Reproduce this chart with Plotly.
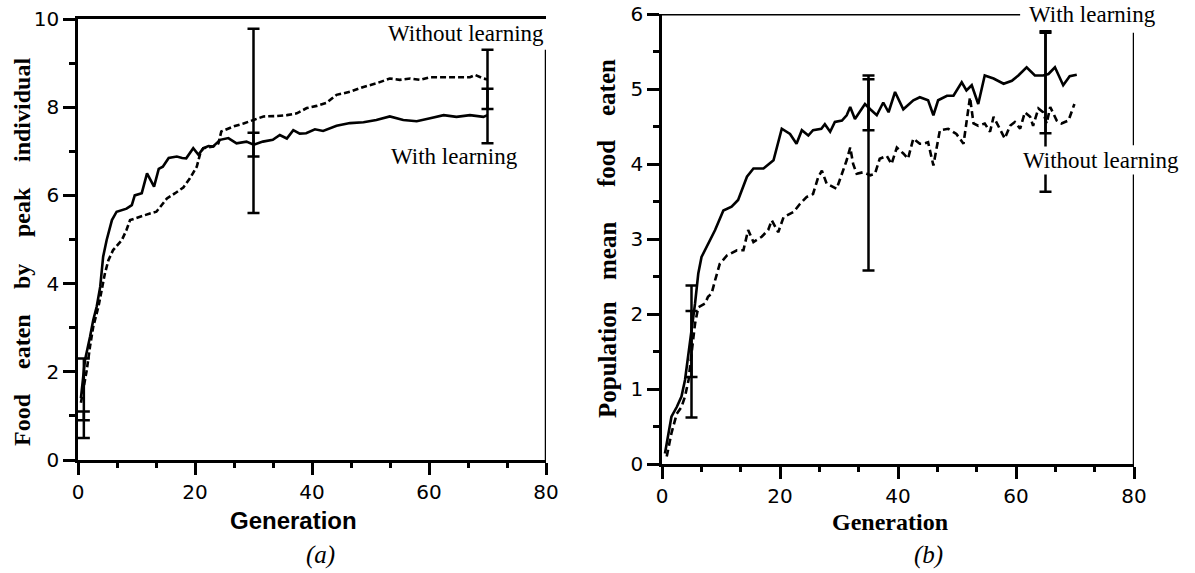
import plotly.graph_objects as go

# ---------------- Panel (a): food eaten by peak individual ----------------
a_with_gen = [0.5, 1.2, 2.05, 2.6, 3.2, 3.8, 4.3, 4.9, 5.8, 6.6, 8.3, 9.2, 9.7, 10.9, 11.8, 12.3, 13.0,
              13.8, 14.5, 15.5, 16.9, 17.8, 18.5, 19.7, 20.6, 21.4, 22.3, 23.1, 24.3, 25.7, 27.1, 28.8,
              30.0, 31.6, 33.3, 34.5, 35.7, 36.8, 37.9, 39.0, 40.5, 41.9, 44.2, 46.5, 48.8, 51.0, 53.3,
              55.6, 57.9, 60.2, 62.5, 64.7, 67.0, 69.3, 70.0]
a_with_val = [1.4, 2.27, 2.79, 3.17, 3.48, 3.93, 4.61, 4.99, 5.44, 5.63, 5.70, 5.78, 6.0, 6.05, 6.5, 6.38, 6.2,
              6.6, 6.65, 6.85, 6.88, 6.85, 6.84, 7.07, 6.92, 7.07, 7.12, 7.11, 7.26, 7.30, 7.18, 7.22,
              7.15, 7.22, 7.26, 7.37, 7.29, 7.48, 7.40, 7.41, 7.50, 7.46, 7.58, 7.64, 7.66, 7.71, 7.79,
              7.71, 7.68, 7.75, 7.82, 7.78, 7.82, 7.78, 7.82]

a_without_gen = [0.5, 1.0, 1.5, 2.05, 2.6, 3.5, 4.05, 4.6, 5.2, 6.0, 7.5, 8.3, 8.9, 10.6, 12.3, 13.4, 14.3,
                 15.2, 16.6, 18.0, 19.1, 20.3, 20.9, 21.4, 23.1, 24.0, 24.5, 26.5, 28.3, 30.0, 31.7, 34.0,
                 35.7, 37.4, 39.1, 40.8, 42.5, 44.2, 46.5, 48.8, 51.0, 53.3, 55.0, 56.8, 58.5, 60.2, 65.3,
                 67.0, 67.9, 69.3, 70.0]
a_without_val = [1.3, 1.66, 2.04, 2.57, 3.02, 3.48, 3.85, 4.23, 4.53, 4.76, 4.99, 5.22, 5.44, 5.52, 5.59, 5.63,
                 5.78, 5.93, 6.05, 6.18, 6.38, 6.65, 6.95, 7.07, 7.11, 7.18, 7.45, 7.56, 7.63, 7.71, 7.79,
                 7.80, 7.82, 7.86, 7.98, 8.03, 8.10, 8.28, 8.35, 8.46, 8.54, 8.65, 8.62, 8.65, 8.62, 8.68,
                 8.68, 8.68, 8.73, 8.65, 8.63]

# error bars (generation, centre, half-length)
a_err_with_gen = [1, 30, 70]
a_err_with_mid = [1.6, 7.15, 7.80]
a_err_with_half = [0.7, 0.27, 0.62]
a_err_without_gen = [1, 30, 70]
a_err_without_mid = [0.8, 7.69, 8.63]
a_err_without_half = [0.3, 2.09, 0.67]

# ---------------- Panel (b): population mean food eaten ----------------
b_with_gen = [0.5, 1.07, 1.6, 2.5, 3.3, 3.9, 4.46, 5.0, 5.6, 6.15, 6.7, 7.85, 9.0, 10.4, 11.8, 12.9, 14.4,
              15.5, 17.2, 18.9, 20.3, 21.7, 22.8, 23.7, 24.8, 25.6, 27.0, 27.6, 28.5, 29.3, 30.5, 31.3,
              31.9, 32.7, 33.6, 34.4, 35.3, 36.4, 37.5, 38.4, 39.5, 40.9, 42.6, 43.7, 45.1, 46.0, 46.8,
              48.3, 49.4, 50.8, 51.6, 52.5, 53.6, 54.7, 56.2, 57.9, 59.3, 60.4, 61.8, 63.2, 64.6, 65.5,
              66.6, 67.7, 68.0, 69.1, 70.3]
b_with_val = [0.14, 0.41, 0.63, 0.76, 0.90, 1.12, 1.43, 1.78, 2.14, 2.54, 2.76, 2.94, 3.12, 3.38, 3.43, 3.52,
              3.83, 3.94, 3.94, 4.05, 4.47, 4.40, 4.27, 4.45, 4.38, 4.45, 4.47, 4.53, 4.43, 4.56, 4.58,
              4.65, 4.76, 4.60, 4.71, 4.80, 4.73, 4.65, 4.82, 4.69, 4.96, 4.73, 4.85, 4.89, 4.85, 4.65,
              4.85, 4.91, 4.91, 5.09, 4.98, 5.05, 4.80, 5.18, 5.14, 5.07, 5.11, 5.18, 5.29, 5.18, 5.18,
              5.20, 5.29, 5.09, 5.05, 5.17, 5.19]

b_without_gen = [0.8, 1.6, 2.5, 3.3, 3.9, 4.5, 5.0, 5.6, 6.15, 7.3, 7.8, 8.4, 9.0, 9.8, 11.0, 12.7, 13.8,
                 14.6, 15.5, 16.9, 18.0, 18.6, 19.7, 20.6, 22.3, 23.4, 24.5, 25.6, 26.5, 27.1, 27.9, 29.6,
                 30.5, 31.3, 31.9, 32.4, 33.0, 34.1, 35.3, 36.1, 36.9, 38.1, 38.9, 39.8, 40.9, 41.7, 42.6,
                 43.7, 44.3, 45.1, 46.0, 46.6, 47.1, 48.5, 49.9, 51.1, 51.6, 51.9, 52.2, 52.8, 53.6, 54.7,
                 55.6, 56.2, 57.0, 58.1, 59.0, 59.8, 60.7, 61.5, 62.4, 62.9, 63.8, 64.6, 65.2, 65.8, 66.9,
                 67.7, 68.9, 69.9]
b_without_val = [0.10, 0.41, 0.67, 0.76, 0.90, 1.12, 1.47, 1.87, 2.09, 2.14, 2.23, 2.27, 2.45, 2.67, 2.78,
                 2.85, 2.85, 3.12, 2.96, 3.03, 3.12, 3.25, 3.09, 3.29, 3.36, 3.47, 3.56, 3.60, 3.83, 3.91,
                 3.74, 3.67, 3.87, 4.05, 4.22, 4.00, 3.87, 3.89, 3.85, 3.87, 4.07, 4.11, 4.00, 4.22, 4.14,
                 4.07, 4.34, 4.27, 4.27, 4.29, 3.98, 4.27, 4.45, 4.47, 4.40, 4.27, 4.58, 4.76, 4.89, 4.54,
                 4.51, 4.54, 4.43, 4.63, 4.51, 4.34, 4.51, 4.56, 4.47, 4.69, 4.63, 4.51, 4.74, 4.69, 4.54,
                 4.76, 4.58, 4.54, 4.58, 4.80]

b_err_with_gen = [5, 35, 65]
b_err_with_mid = [1.77, 4.79, 5.08]
b_err_with_half = [0.61, 0.34, 0.67]
b_err_without_gen = [5, 35, 65]
b_err_without_mid = [1.33, 3.88, 4.70]
b_err_without_half = [0.71, 1.30, 1.07]

x_ticks = [0, 20, 40, 60, 80]
a_y_ticks = [0, 2, 4, 6, 8, 10]
b_y_ticks = [0, 1, 2, 3, 4, 5, 6]

a_ytitle_words = ["Food", "eaten", "by", "peak", "individual"]
b_ytitle_words = ["Population", "mean", "food", "eaten"]

W, H = 1195, 573
BLACK = "black"

fig = go.Figure()

def line(x, y, xa, ya, dash):
    fig.add_trace(go.Scatter(x=x, y=y, mode="lines", xaxis=xa, yaxis=ya,
                             line=dict(color=BLACK, width=2.6, dash=dash), showlegend=False,
                             hoverinfo="skip"))

def errs(x, mid, half, xa, ya):
    fig.add_trace(go.Scatter(x=x, y=mid, mode="markers", xaxis=xa, yaxis=ya,
                             marker=dict(size=1, color="rgba(0,0,0,0)"),
                             error_y=dict(type="data", array=half, symmetric=True, color=BLACK,
                                          thickness=2.5, width=6),
                             showlegend=False, hoverinfo="skip"))

line(a_with_gen, a_with_val, "x", "y", "solid")
line(a_without_gen, a_without_val, "x", "y", "6px,3px")
errs(a_err_with_gen, a_err_with_mid, a_err_with_half, "x", "y")
errs(a_err_without_gen, a_err_without_mid, a_err_without_half, "x", "y")

line(b_with_gen, b_with_val, "x2", "y2", "solid")
line(b_without_gen, b_without_val, "x2", "y2", "7px,4px")
errs(b_err_with_gen, b_err_with_mid, b_err_with_half, "x2", "y2")
errs(b_err_without_gen, b_err_without_mid, b_err_without_half, "x2", "y2")

tickfont = dict(family="DejaVu Sans", size=20, color=BLACK)

def xaxis(domain, anchor, mirror):
    return dict(domain=domain, anchor=anchor, range=[0, 80], tickvals=x_ticks,
                ticks="outside", ticklen=12, tickwidth=2.5, tickcolor=BLACK,
                minor=dict(dtick=20 / 3, tick0=0, ticks="outside", ticklen=5, tickwidth=2.5,
                           tickcolor=BLACK),
                showline=True, linecolor=BLACK, linewidth=3, mirror=mirror, automargin=False,
                showgrid=False, zeroline=False, tickfont=tickfont, fixedrange=True)

def yaxis(domain, anchor, rng, vals, minor_dt):
    return dict(domain=domain, anchor=anchor, range=rng, tickvals=vals,
                ticks="outside", ticklen=12, tickwidth=2.5, tickcolor=BLACK,
                minor=dict(dtick=minor_dt, tick0=0, ticks="outside", ticklen=6, tickwidth=2.5,
                           tickcolor=BLACK),
                showline=True, linecolor=BLACK, linewidth=2.5, mirror=False, automargin=False,
                showgrid=False, zeroline=False, tickfont=tickfont, fixedrange=True)

fig.update_layout(
    width=W, height=H,
    margin=dict(l=0, r=0, t=0, b=0, pad=0),
    paper_bgcolor="white", plot_bgcolor="white",
    xaxis=xaxis([78 / W, 546 / W], "y", True),
    yaxis=yaxis([1 - 460 / H, 1 - 19 / H], "x", [0, 10], a_y_ticks, 1),
    xaxis2=xaxis([662 / W, 1134 / W], "y2", False),
    yaxis2=yaxis([1 - 464 / H, 1 - 14 / H], "x2", [0, 6], b_y_ticks, 0.5),
)

# frame pieces (right borders are interrupted by the curve labels)
shapes = [
    dict(type="line", xref="x", yref="y", x0=80, x1=80, y0=0, y1=9.3,
         line=dict(color=BLACK, width=2.5)),
    dict(type="line", xref="x2", yref="y2", x0=-3.4, x1=60.7, y0=6, y1=6,
         line=dict(color=BLACK, width=3)),
    dict(type="line", xref="x2", yref="y2", x0=80, x1=80, y0=0, y1=3.89,
         line=dict(color=BLACK, width=2.5)),
    dict(type="line", xref="x2", yref="y2", x0=80, x1=80, y0=4.25, y1=5.75,
         line=dict(color=BLACK, width=2.5)),
]
fig.update_layout(shapes=shapes)

serif = "Liberation Serif"
lab = dict(family=serif, size=23, color=BLACK)

def P(px, py):
    return px / W, 1 - py / H

annotations = []

def txt(text, px, py, font, xanchor="center", angle=0, **kw):
    x, y = P(px, py)
    annotations.append(dict(text=text, xref="paper", yref="paper", x=x, y=y, xanchor=xanchor,
                            yanchor="middle", showarrow=False, font=font, textangle=angle, **kw))

# curve labels
txt("Without learning", 546, 34, lab, xanchor="right")
txt("With learning", 454, 156, lab)
txt("With learning", 1027, 15, lab, xanchor="left")
txt("Without learning", 1021, 160, lab, xanchor="left", bgcolor="white", borderpad=1)

# axis titles
txt("<b>Generation</b>", 293, 520, dict(family="Liberation Sans", size=24, color=BLACK))
txt("<i>(a)</i>", 320, 555, dict(family=serif, size=25, color=BLACK))
txt("<b>Generation</b>", 890, 522, dict(family=serif, size=24, color=BLACK))
txt("<i>(b)</i>", 928, 555, dict(family=serif, size=25, color=BLACK))

ytfont = dict(family=serif, size=24, color=BLACK)
for word, py in zip(a_ytitle_words, [420, 342, 277, 212, 110]):
    txt("<b>" + word + "</b>", 22, py, ytfont, angle=-90)
for word, py in zip(b_ytitle_words, [360, 251, 164, 88]):
    txt("<b>" + word + "</b>", 607, py, dict(family=serif, size=25, color=BLACK), angle=-90)

fig.update_layout(annotations=annotations)

fig.write_html("out.html", config={"displayModeBar": False},
               post_script="document.body.style.margin='0px';")
